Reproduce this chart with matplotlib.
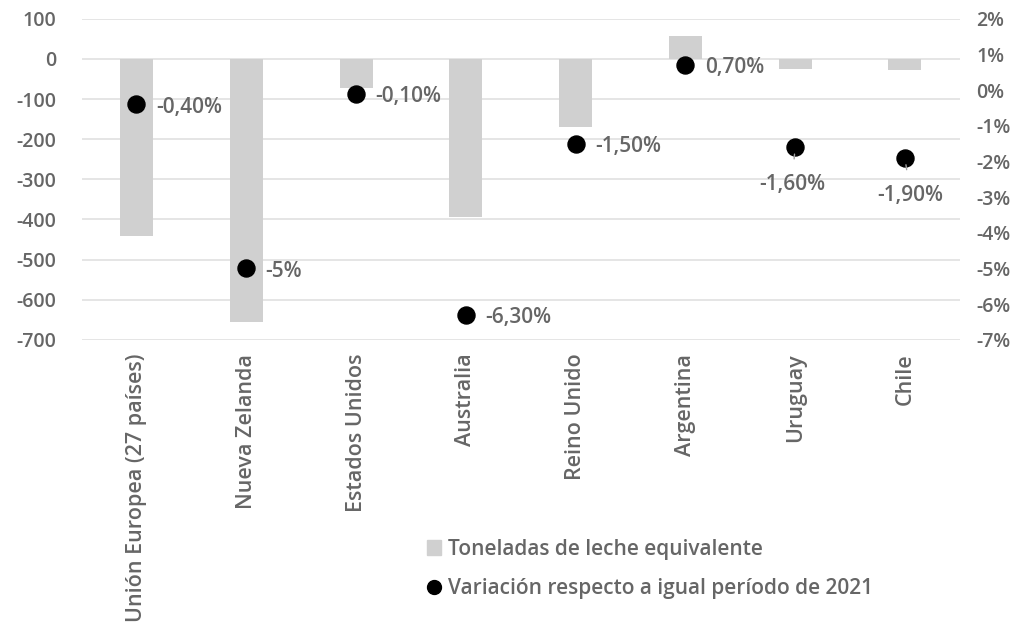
import numpy as np
import matplotlib.pyplot as plt
from matplotlib.lines import Line2D
from matplotlib.patches import Patch

paises = ["Unión Europea (27 países)", "Nueva Zelanda", "Estados Unidos", "Australia",
          "Reino Unido", "Argentina", "Uruguay", "Chile"]
toneladas = [-442, -657, -72, -395, -170, 57, -25, -27]
variacion = [-0.4, -5.0, -0.1, -6.3, -1.5, 0.7, -1.6, -1.9]
etiquetas = ["-0,40%", "-5%", "-0,10%", "-6,30%", "-1,50%", "0,70%", "-1,60%", "-1,90%"]

gris = "#666666"
plt.rcParams["font.family"] = ["Open Sans", "DejaVu Sans"]
plt.rcParams["font.weight"] = "semibold"
plt.rcParams["axes.unicode_minus"] = False

fig = plt.figure(figsize=(10.2, 6.28), dpi=100)
ax = fig.add_axes([0.080, 0.459, 0.861, 0.511])
x = np.arange(len(paises))

ax.bar(x, toneladas, width=0.3, color="#d0d0d0", zorder=2)
ax.set_ylim(-700, 100)
ax.set_yticks(range(-700, 101, 100))
ax.set_xlim(-0.5, len(paises) - 0.5)
ax.grid(axis="y", color="#e0e0e0", lw=1.2, zorder=0)
ax.set_axisbelow(True)
for s in ax.spines.values():
    s.set_visible(False)
ax.tick_params(length=0, labelsize=14, colors=gris)
ax.tick_params(axis="y", pad=18)
ax.set_xticks(x)
ax.set_xticklabels(paises, rotation=90, va="top", fontsize=15.5)
ax.tick_params(axis="x", pad=10)

ax2 = ax.twinx()
ax2.set_ylim(-7, 2)
ax2.set_yticks(range(-7, 3))
ax2.set_yticklabels([f"{v}%" for v in range(-7, 3)])
for s in ax2.spines.values():
    s.set_visible(False)
ax2.tick_params(length=0, labelsize=14, colors=gris, pad=12)
ax2.scatter(x, variacion, s=150, color="black", zorder=3)

# etiquetas debajo con línea guía para Uruguay y Chile
desplaz = {"Uruguay": -0.03, "Chile": 0.05}
for i, (v, t) in enumerate(zip(variacion, etiquetas)):
    if paises[i] in desplaz:
        ax2.annotate(t, (i, v), xytext=(i + desplaz[paises[i]], v - 1.05), ha="center", va="center",
                     fontsize=15, color=gris,
                     arrowprops=dict(arrowstyle="-", color="#a0a0a0", lw=1, shrinkA=9, shrinkB=5))
    else:
        ax2.annotate(t, (i, v), xytext=(14, -2), textcoords="offset points",
                     ha="left", va="center", fontsize=15, color=gris)

handles = [Patch(color="#d0d0d0", label="Toneladas de leche equivalente"),
           Line2D([], [], marker="o", color="black", ls="", markersize=10,
                  label="Variación respecto a igual período de 2021")]
fig.legend(handles=handles, loc="upper left", bbox_to_anchor=(0.40, 0.172), frameon=False,
           fontsize=15, labelcolor=gris, handlelength=0.7, handletextpad=0.3, labelspacing=0.9)

fig.savefig("out.png", dpi=100)
